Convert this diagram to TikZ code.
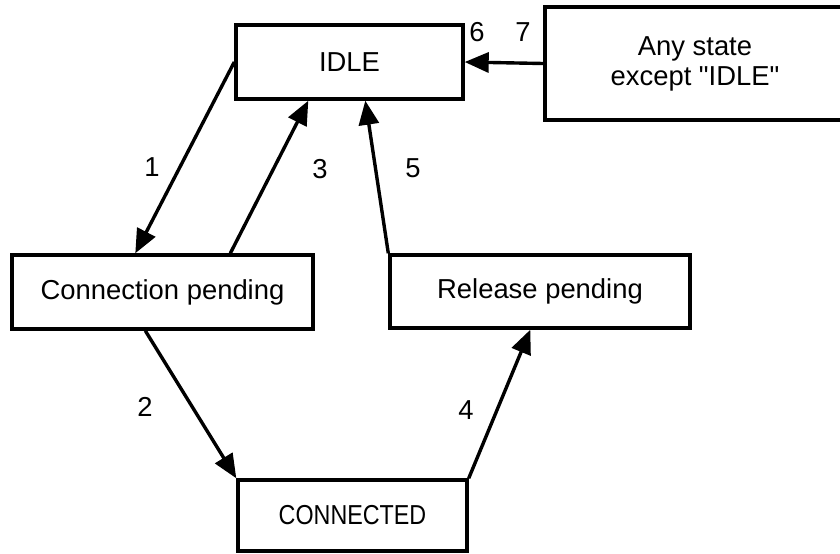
\documentclass[tikz,border=0pt]{standalone}
\usepackage{fontspec}
\setmainfont{Liberation Sans}
\newfontfamily\plainsans{Liberation Sans}
\usetikzlibrary{calc}
\usetikzlibrary{arrows.meta}

\begin{document}
\begin{tikzpicture}[x=0.5pt, y=-0.5pt, font=\fontsize{13.7}{15}\selectfont,
    box/.style={draw, line width=1.7pt, inner sep=0pt},
    trans/.style={line width=1.7pt, -{Triangle[length=12pt,width=10pt]}}]
    \useasboundingbox (0,0) rectangle (840,553);
    \clip (0,0) rectangle (840,553);
    % states
    \node[box, minimum width=113.5pt, minimum height=37pt] (idle) at (349.5,62) {IDLE};
    \node[box, minimum width=150pt, minimum height=56.5pt, align=center, font=\plainsans\fontsize{13.7}{15}\selectfont] (any) at (695,63.5) {Any state\\except "IDLE"};
    \node[box, minimum width=150.5pt, minimum height=37pt] (conn) at (162.5,292) {Connection pending};
    \node[box, minimum width=150pt, minimum height=36.5pt] (rel) at (540,291.5) {\raisebox{2pt}{Release pending}};
    \node[box, minimum width=114.5pt, minimum height=35.5pt] (cnd) at (352.5,515.5) {\scalebox{0.85}[1]{CONNECTED}};
    % transitions
    \draw[trans] (idle.west) -- ($(conn.north west)+(125,0)$); % 1
    \draw[trans] ($(conn.south west)+(135,0)$) -- (cnd.north west); % 2
    \draw[trans] ($(conn.north west)+(220,0)$) -- ($(idle.south west)+(74,0)$); % 3
    \draw[trans] (cnd.north east) -- ($(rel.south west)+(142,0)$); % 4
    \draw[trans] (rel.north west) -- ($(idle.south west)+(131,0)$); % 5
    \draw[trans] (any.west) -- (idle.east); % 6, 7
    % numbers
    \node (n1) at (152,167) {1};
    \node (n2) at (145,407) {2};
    \node (n3) at (320,169) {3};
    \node (n4) at (466,410) {4};
    \node (n5) at (413,168) {5};
    \node (n6) at (477,32) {6};
    \node (n7) at (523,32) {7};
\end{tikzpicture}
\end{document}
